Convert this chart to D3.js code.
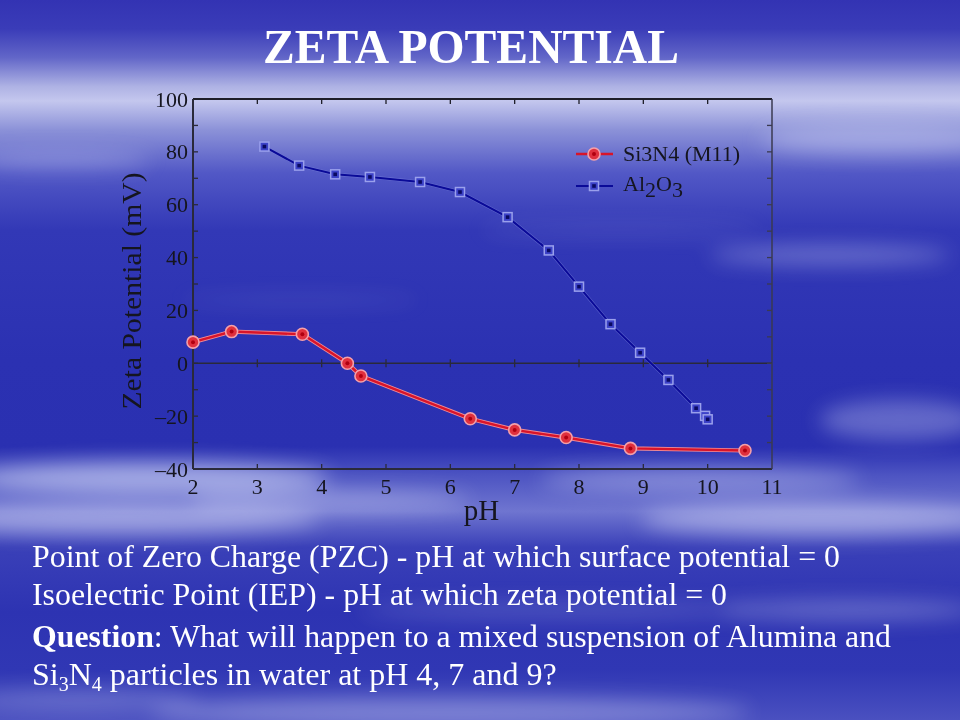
<!DOCTYPE html>
<html>
<head>
<meta charset="utf-8">
<script src="https://cdn.jsdelivr.net/npm/d3@7/dist/d3.min.js"></script>
<style>
  html, body { margin: 0; padding: 0; background: #2b2fb3; }
  svg { display: block; }
</style>
</head>
<body>
<svg id="chart" width="960" height="720"></svg>
<script>
// ---------------- data ----------------
const si3n4_pH   = [2.0, 2.6, 3.7, 4.4, 4.61, 6.31, 7.0, 7.8, 8.8, 10.58];
const si3n4_zeta = [8.0, 12.0, 11.0, 0.0, -4.8, -21.0, -25.2, -28.1, -32.2, -33.0];
const al2o3_pH   = [3.11, 3.65, 4.21, 4.75, 5.53, 6.15, 6.89, 7.53, 8.0, 8.49, 8.95, 9.39, 9.82, 9.96, 10.0];
const al2o3_zeta = [82.0, 74.8, 71.5, 70.5, 68.6, 64.8, 55.3, 42.7, 29.0, 14.8, 4.0, -6.3, -17.0, -19.9, -21.2];
const xTicks = [2, 3, 4, 5, 6, 7, 8, 9, 10, 11];
const yTicks = [-40, -20, 0, 20, 40, 60, 80, 100];
const yMinorTicks = [-30, -10, 10, 30, 50, 70, 90];
const seriesNames = ["Si3N4 (M11)", "Al2O3"];
const titleText = "ZETA POTENTIAL";
const xLabel = "pH";
const yLabel = "Zeta Potential (mV)";

// ---------------- setup ----------------
const svg = d3.select("#chart");
const W = 960, H = 720;
const defs = svg.append("defs");

// background gradient
const bg = defs.append("linearGradient").attr("id", "bg").attr("x1", 0).attr("y1", 0).attr("x2", 0).attr("y2", 1);
[[0, "#3333b3"], [0.04, "#3a3cb8"], [0.08, "#6266c8"], [0.12, "#aeb2e4"], [0.14, "#c4c7ee"],
 [0.18, "#8c92d8"], [0.24, "#5258c6"], [0.32, "#3238b6"], [0.5, "#2b31b2"], [0.62, "#2a30b1"],
 [0.66, "#4d54c2"], [0.71, "#6f75d0"], [0.76, "#3a40b8"], [0.85, "#2d33b2"], [0.93, "#3037b4"], [1, "#4a50c0"]]
  .forEach(([o, c]) => bg.append("stop").attr("offset", o).attr("stop-color", c));
svg.append("rect").attr("width", W).attr("height", H).attr("fill", "url(#bg)");

const blur = defs.append("filter").attr("id", "blur").attr("x", "-50%").attr("y", "-50%").attr("width", "200%").attr("height", "200%");
blur.append("feGaussianBlur").attr("stdDeviation", 10);

const clouds = [
  [150, 478, 180, 16, 0.55], [120, 520, 200, 14, 0.45], [330, 500, 140, 10, 0.35],
  [700, 480, 160, 12, 0.35], [820, 520, 180, 16, 0.45], [900, 420, 80, 20, 0.3],
  [830, 255, 120, 10, 0.3], [880, 140, 120, 14, 0.35], [60, 160, 90, 8, 0.3],
  [560, 610, 200, 8, 0.2], [850, 610, 130, 10, 0.3], [450, 712, 300, 14, 0.35], [80, 700, 120, 10, 0.25],
  [620, 230, 140, 5, 0.15], [300, 300, 120, 4, 0.12]
];
svg.append("g").attr("filter", "url(#blur)")
  .selectAll("ellipse").data(clouds).join("ellipse")
  .attr("cx", d => d[0]).attr("cy", d => d[1]).attr("rx", d => d[2]).attr("ry", d => d[3])
  .attr("fill", "#e8ecff").attr("opacity", d => d[4]);

// ---------------- title ----------------
svg.append("text")
  .attr("x", 471).attr("y", 63)
  .attr("text-anchor", "middle")
  .attr("font-family", "'Liberation Serif', 'Times New Roman', serif")
  .attr("font-weight", "bold").attr("font-size", 48)
  .attr("fill", "#ffffff")
  .attr("textLength", 416).attr("lengthAdjust", "spacingAndGlyphs")
  .text(titleText);

// ---------------- scales ----------------
const x = d3.scaleLinear().domain([2, 11]).range([193, 772]);
const y = d3.scaleLinear().domain([-40, 100]).range([469, 99]);
const axisColor = "#1e1e28";
const serif = "'Liberation Serif', 'Times New Roman', serif";

const frame = svg.append("g");
frame.append("line").attr("x1", x(2)).attr("x2", x(11)).attr("y1", y(100)).attr("y2", y(100)).attr("stroke", axisColor).attr("stroke-width", 2);
frame.append("line").attr("x1", x(2)).attr("x2", x(11)).attr("y1", y(-40)).attr("y2", y(-40)).attr("stroke", "#2a2a3a").attr("stroke-width", 2);
frame.append("line").attr("x1", x(2)).attr("x2", x(2)).attr("y1", y(100)).attr("y2", y(-40)).attr("stroke", "#2a2a3a").attr("stroke-width", 2);
frame.append("line").attr("x1", x(11)).attr("x2", x(11)).attr("y1", y(100)).attr("y2", y(-40)).attr("stroke", "#3a3a50").attr("stroke-width", 1.5);
frame.append("line").attr("x1", x(2)).attr("x2", x(11)).attr("y1", y(0)).attr("y2", y(0)).attr("stroke", "#2a2a3a").attr("stroke-width", 1.6);

const inner = xTicks.slice(1, -1);
frame.selectAll(".tt").data(inner).join("line")
  .attr("x1", d => x(d)).attr("x2", d => x(d)).attr("y1", y(100)).attr("y2", y(100) + 5)
  .attr("stroke", axisColor).attr("stroke-width", 1.3);
frame.selectAll(".bt").data(inner).join("line")
  .attr("x1", d => x(d)).attr("x2", d => x(d)).attr("y1", y(-40)).attr("y2", y(-40) - 5)
  .attr("stroke", "#2a2a3a").attr("stroke-width", 1.3);
frame.selectAll(".zt").data(inner).join("line")
  .attr("x1", d => x(d)).attr("x2", d => x(d)).attr("y1", y(0) - 4).attr("y2", y(0) + 4)
  .attr("stroke", "#2a2a3a").attr("stroke-width", 1.3);
const allY = yTicks.slice(1, -1).concat(yMinorTicks);
frame.selectAll(".lt").data(allY).join("line")
  .attr("x1", x(2)).attr("x2", x(2) + 5).attr("y1", d => y(d)).attr("y2", d => y(d))
  .attr("stroke", "#2a2a3a").attr("stroke-width", 1.3);
frame.selectAll(".rt").data(allY).join("line")
  .attr("x1", x(11)).attr("x2", x(11) - 5).attr("y1", d => y(d)).attr("y2", d => y(d))
  .attr("stroke", "#3a3a50").attr("stroke-width", 1.3);

svg.append("g").selectAll("text").data(xTicks).join("text")
  .attr("x", d => x(d)).attr("y", 494)
  .attr("text-anchor", "middle").attr("font-family", serif).attr("font-size", 22)
  .attr("fill", "#15151f").text(d => d);
svg.append("g").selectAll("text").data(yTicks).join("text")
  .attr("x", 188).attr("y", d => y(d) + 7.5)
  .attr("text-anchor", "end").attr("font-family", serif).attr("font-size", 22)
  .attr("fill", "#15151f").text(d => d < 0 ? "\u2013" + Math.abs(d) : d);

svg.append("text").attr("x", 481.5).attr("y", 520).attr("text-anchor", "middle")
  .attr("font-family", serif).attr("font-size", 29).attr("fill", "#15151f").text(xLabel);
svg.append("text").attr("transform", "translate(141,291) rotate(-90)").attr("text-anchor", "middle")
  .attr("font-family", serif).attr("font-size", 28).attr("fill", "#15151f")
  .attr("textLength", 237).attr("lengthAdjust", "spacingAndGlyphs").text(yLabel);

// ---------------- series ----------------
const si = si3n4_pH.map((p, i) => ({ p, z: si3n4_zeta[i] }));
const al = al2o3_pH.map((p, i) => ({ p, z: al2o3_zeta[i] }));
const line = d3.line().x(d => x(d.p)).y(d => y(d.z));

svg.append("path").datum(al).attr("d", line).attr("fill", "none").attr("stroke", "#8088e0").attr("stroke-width", 3.2).attr("opacity", 0.5);
svg.append("path").datum(al).attr("d", line).attr("fill", "none").attr("stroke", "#0a0a98").attr("stroke-width", 2);
svg.append("path").datum(si).attr("d", line).attr("fill", "none").attr("stroke", "#f08a96").attr("stroke-width", 4.2);
svg.append("path").datum(si).attr("d", line).attr("fill", "none").attr("stroke", "#d8142a").attr("stroke-width", 2.4);

function squareMarker(g, cx, cy) {
  g.append("rect").attr("x", cx - 4.5).attr("y", cy - 4.5).attr("width", 9).attr("height", 9)
    .attr("fill", "#3c42c8").attr("stroke", "#9aa0ec").attr("stroke-width", 1.5);
  g.append("rect").attr("x", cx - 1.8).attr("y", cy - 1.8).attr("width", 3.6).attr("height", 3.6).attr("fill", "#0a0a60");
}
function circleMarker(g, cx, cy) {
  g.append("circle").attr("cx", cx).attr("cy", cy).attr("r", 6)
    .attr("fill", "#e0303e").attr("stroke", "#f4a0aa").attr("stroke-width", 1.6);
  g.append("circle").attr("cx", cx).attr("cy", cy).attr("r", 2).attr("fill", "#b00010");
}
const mk = svg.append("g");
al.forEach(d => squareMarker(mk, x(d.p), y(d.z)));
si.forEach(d => circleMarker(mk, x(d.p), y(d.z)));

// ---------------- legend ----------------
const lg = svg.append("g");
lg.append("line").attr("x1", 576).attr("x2", 613).attr("y1", 154).attr("y2", 154).attr("stroke", "#d8142a").attr("stroke-width", 2.4);
circleMarker(lg, 594, 154);
lg.append("line").attr("x1", 576).attr("x2", 613).attr("y1", 186).attr("y2", 186).attr("stroke", "#0a0a98").attr("stroke-width", 2);
squareMarker(lg, 594, 186);
lg.append("text").attr("x", 623).attr("y", 161).attr("font-family", serif).attr("font-size", 22)
  .attr("fill", "#15151f").text(seriesNames[0]);
const t2 = lg.append("text").attr("x", 623).attr("y", 191).attr("font-family", serif).attr("font-size", 22).attr("fill", "#15151f");
t2.append("tspan").text("Al");
t2.append("tspan").attr("dy", 6).text("2");
t2.append("tspan").attr("dy", -6).text("O");
t2.append("tspan").attr("dy", 6).text("3");

// ---------------- bottom text ----------------
const bt = svg.append("g").attr("font-family", serif).attr("fill", "#ffffff").attr("font-size", 32);
bt.append("text").attr("x", 32).attr("y", 567).attr("textLength", 808).attr("lengthAdjust", "spacingAndGlyphs")
  .text("Point of Zero Charge (PZC) - pH at which surface potential = 0");
bt.append("text").attr("x", 32).attr("y", 605).attr("textLength", 695).attr("lengthAdjust", "spacingAndGlyphs")
  .text("Isoelectric Point (IEP) - pH at which zeta potential = 0");
const q = bt.append("text").attr("x", 32).attr("y", 647).attr("textLength", 859).attr("lengthAdjust", "spacingAndGlyphs");
q.append("tspan").attr("font-weight", "bold").text("Question");
q.append("tspan").text(": What will happen to a mixed suspension of Alumina and");
const l4 = bt.append("text").attr("x", 32).attr("y", 685);
l4.append("tspan").text("Si");
l4.append("tspan").attr("font-size", 20).attr("dy", 6).text("3");
l4.append("tspan").attr("dy", -6).text("N");
l4.append("tspan").attr("font-size", 20).attr("dy", 6).text("4");
l4.append("tspan").attr("dy", -6).text(" particles in water at pH 4, 7 and 9?");
</script>
</body>
</html>
